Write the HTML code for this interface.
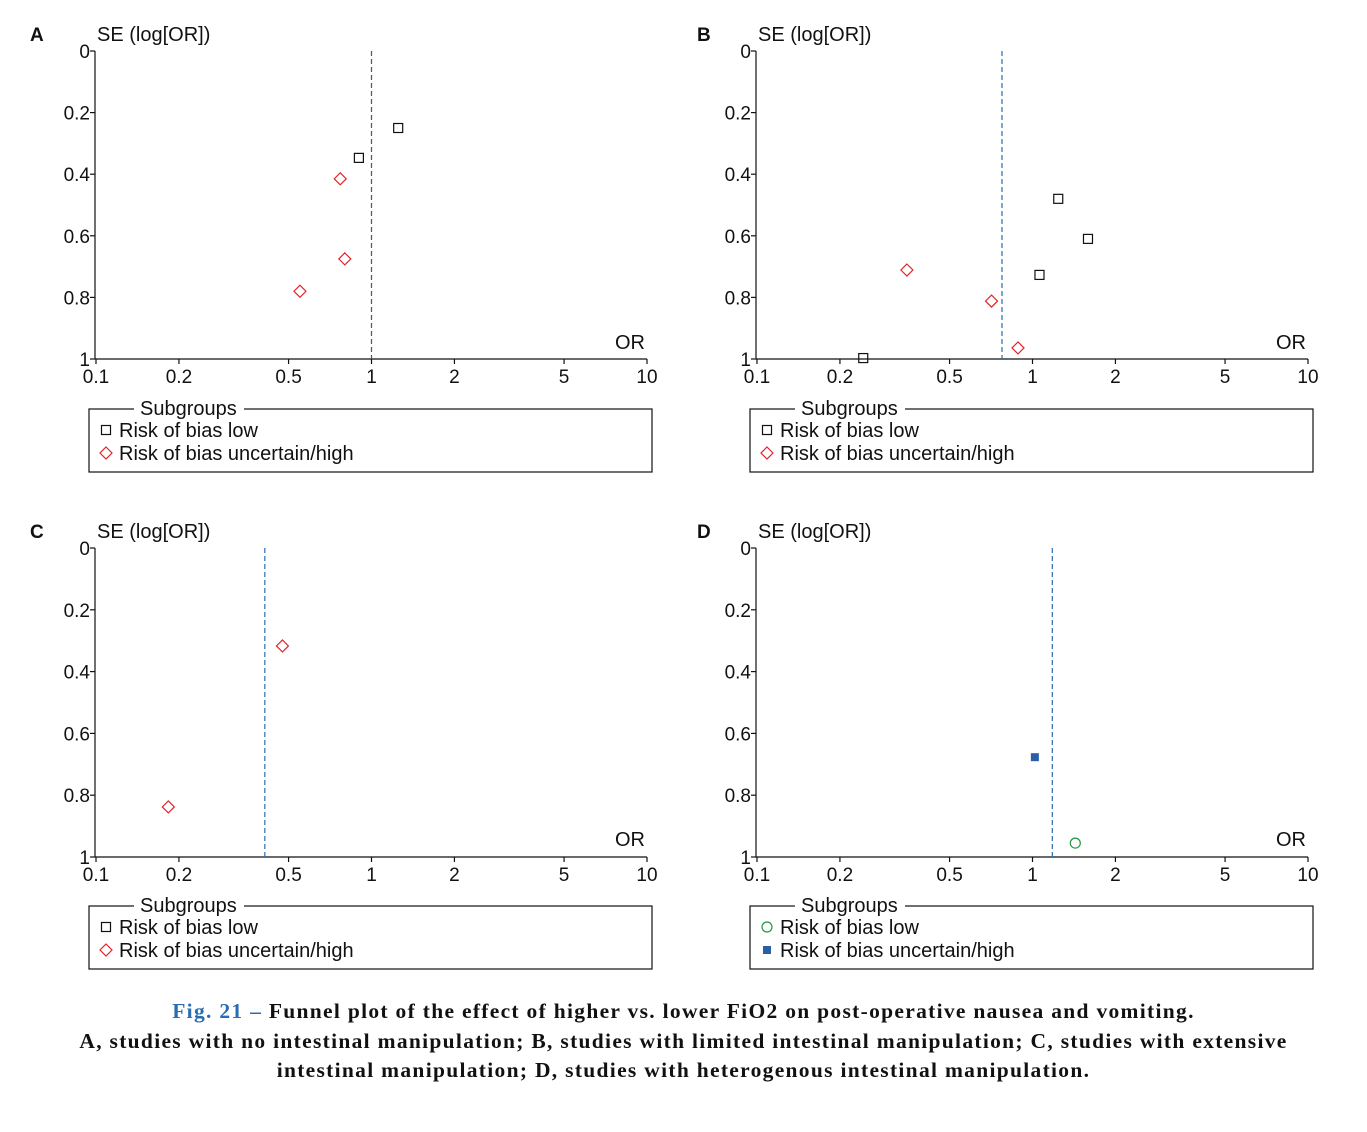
<!DOCTYPE html>
<html><head><meta charset="utf-8">
<style>
html,body{margin:0;padding:0;background:#fff;}
body{width:1367px;height:1132px;position:relative;overflow:hidden;font-family:"Liberation Sans",sans-serif;}
#cap{position:absolute;left:0;top:997px;width:1367px;text-align:center;font-family:"Liberation Serif",serif;font-weight:bold;font-size:21.5px;line-height:29.5px;color:#111;letter-spacing:1.3px;}
#cap .fig{color:#2a6db5;}
</style></head><body>
<svg id="chart" width="1367" height="990" style="position:absolute;left:0;top:0" font-family="Liberation Sans, sans-serif"></svg>
<div id="cap"><span class="fig">Fig. 21 –</span> Funnel plot of the effect of higher vs. lower FiO2 on post-operative nausea and vomiting.<br>A, studies with no intestinal manipulation; B, studies with limited intestinal manipulation; C, studies with extensive<br>intestinal manipulation; D, studies with heterogenous intestinal manipulation.</div>
<script>
const xTicks=[0.1,0.2,0.5,1,2,5,10];
const xTickLabels=["0.1","0.2","0.5","1","2","5","10"];
const yTicks=[0,0.2,0.4,0.6,0.8,1];
const yTickLabels=["0","0.2","0.4","0.6","0.8","1"];
const panelLetters=["A","B","C","D"];
const pooledOR=[1.0,0.775,0.41,1.18];
const lowOR=[[1.25,0.90],[1.24,1.59,1.06,0.243],[],[1.43]];
const lowSE=[[0.25,0.347],[0.48,0.61,0.727,0.997],[],[0.955]];
const highOR=[[0.77,0.80,0.55],[0.35,0.71,0.886],[0.475,0.183],[1.02]];
const highSE=[[0.415,0.675,0.78],[0.711,0.812,0.964],[0.317,0.838],[0.677]];
const lowStyle=["square","square","square","circle"];
const highStyle=["diamond","diamond","diamond","bluesquare"];

const svg=document.getElementById('chart');
const NS="http://www.w3.org/2000/svg";
function mk(tag,attrs,parent){const e=document.createElementNS(NS,tag);for(const k in attrs)e.setAttribute(k,attrs[k]);parent.appendChild(e);return e;}
function txt(s,x,y,anchor,size,parent){const t=mk('text',{x:x,y:y,'text-anchor':anchor,'font-size':size,fill:'#111'},parent);t.textContent=s;return t;}
function marker(style,cx,cy,g){
  let m;
  if(style==="square")m=mk('rect',{x:cx-4.5,y:cy-4.5,width:9,height:9,fill:'none',stroke:'#111','stroke-width':1.2},g);
  else if(style==="diamond")m=mk('polygon',{points:`${cx},${cy-6} ${cx+6},${cy} ${cx},${cy+6} ${cx-6},${cy}`,fill:'none',stroke:'#e0242a','stroke-width':1.2},g);
  else if(style==="circle")m=mk('circle',{cx:cx,cy:cy,r:5,fill:'none',stroke:'#1e9a3c','stroke-width':1.2},g);
  else m=mk('rect',{x:cx-4,y:cy-4,width:8,height:8,fill:'#2a5fa8'},g);
  return m;
}
const ox=[96,757,96,757], oy=[51,51,548,548];
const ph=[308,308,309,309];
const letterX=[30,697,30,697];
for(let p=0;p<4;p++){
  const g=mk('g',{},svg);
  
  
  const x0=ox[p],y0=oy[p],H=ph[p];
  const xs=v=>x0+(Math.log10(v)+1)*275.5;
  const ys=v=>y0+v*H;
  const L=txt(panelLetters[p],letterX[p],y0-10,'start',19,g);L.setAttribute('font-weight','bold');
  
  const yt=txt('SE (log[OR])',x0+1,y0-10,'start',20,g);
  
  const xt=txt('OR',x0+549,y0+298,'end',20,g);
  
  mk('line',{x1:x0-1,y1:y0,x2:x0-1,y2:y0+H,stroke:'#111','stroke-width':1.2},g);
  mk('line',{x1:x0-1,y1:y0+H,x2:x0+551,y2:y0+H,stroke:'#111','stroke-width':1.2},g);
  yTicks.forEach((v,i)=>{mk('line',{x1:x0-6,y1:ys(v),x2:x0-1,y2:ys(v),stroke:'#111','stroke-width':1.2},g);
    const t=txt(yTickLabels[i],x0-6,ys(v)+7,'end',19,g);});
  xTicks.forEach((v,i)=>{mk('line',{x1:xs(v),y1:y0+H,x2:xs(v),y2:y0+H+5,stroke:'#111','stroke-width':1.2},g);
    const t=txt(xTickLabels[i],xs(v),y0+H+24,'middle',19,g);});
  const dl=mk('line',{x1:xs(pooledOR[p]),y1:y0,x2:xs(pooledOR[p]),y2:y0+H,stroke:p===0?'#555':'#2a6db5','stroke-width':1.2,'stroke-dasharray':'5,3'},g);
  
  lowOR[p].forEach((v,i)=>{const m=marker(lowStyle[p],xs(v),ys(lowSE[p][i]),g);
    });
  highOR[p].forEach((v,i)=>{const m=marker(highStyle[p],xs(v),ys(highSE[p][i]),g);
    });
  const lg=mk('g',{},g);
  
  const lx=x0-7,ly=y0+358;
  mk('rect',{x:lx,y:ly,width:563,height:63,fill:'none',stroke:'#111','stroke-width':1.2},lg);
  mk('rect',{x:lx+45,y:ly-8,width:110,height:14,fill:'#fff'},lg);
  txt('Subgroups',lx+51,ly+6,'start',20,lg);
  const m1=marker(lowStyle[p],lx+17,ly+21,lg);
  txt('Risk of bias low',lx+30,ly+28,'start',20,lg);
  const m2=marker(highStyle[p],lx+17,ly+44,lg);
  txt('Risk of bias uncertain/high',lx+30,ly+51,'start',20,lg);
}
</script>
</body></html>
